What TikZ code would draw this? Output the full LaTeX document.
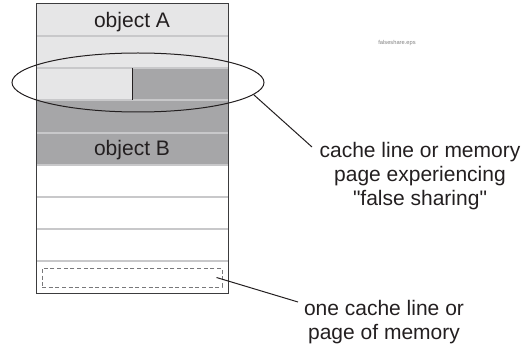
\documentclass[tikz,border=0pt]{standalone}
\usepackage{fontspec}
\setmainfont{Liberation Sans}[Ligatures=TeXOff]
\usetikzlibrary{shapes.geometric}

\tikzset{every picture/.style={line width=0.75pt}}
\tikzset{
  lightrow/.style={draw=none, fill={rgb, 255:red, 230; green, 230; blue, 231 }},
  darkrow/.style={draw=none, fill={rgb, 255:red, 166; green, 166; blue, 168 }},
  rowsep/.style={color={rgb, 255:red, 200; green, 200; blue, 202 }, line width=0.9pt},
  lbl/.style={color={rgb, 255:red, 35; green, 31; blue, 32 }, align=center, font=\fontsize{15.75}{18}\selectfont},
}

\begin{document}
\begin{tikzpicture}[x=0.75pt,y=0.75pt,yscale=-1,xscale=1]
		\useasboundingbox (0,0) rectangle (524,349);

		%object A and object B rows
		\draw  [lightrow] (36,4) rectangle (228,36) ;
		\draw  [lightrow] (36,36) rectangle (228,68) ;
		\draw  [lightrow] (36,68) rectangle (132,100) ;
		\draw  [darkrow] (132,68) rectangle (228,100) ;
		\draw  [darkrow] (36,100) rectangle (228,133) ;
		\draw  [darkrow] (36,133) rectangle (228,165) ;

		%row separators
		\draw  [rowsep] (36,36) -- (228,36) ;
		\draw  [rowsep] (36,68) -- (228,68) ;
		\draw  [rowsep] (36,100) -- (228,100) ;
		\draw  [rowsep] (36,133) -- (228,133) ;
		\draw  [rowsep] (36,165) -- (228,165) ;
		\draw  [rowsep] (36,197) -- (228,197) ;
		\draw  [rowsep] (36,229) -- (228,229) ;
		\draw  [rowsep] (36,261) -- (228,261) ;

		\draw  [color={rgb, 255:red, 35; green, 31; blue, 32 }] (132,68) -- (132,100) ;
		\draw  [color={rgb, 255:red, 60; green, 60; blue, 62 }] (36,4) rectangle (228,293) ;


		\draw (132,22) node (objA) [lbl] {object A};
		\draw (132,150) node (objB) [lbl] {object B};

		\draw (138,82.5) node (ell) [ellipse, draw, color={rgb, 255:red, 35; green, 31; blue, 32 }, minimum width=189pt, minimum height=44.25pt, inner sep=0pt] {};
		\draw (132,277.5) node (onebox) [draw, dash pattern=on 3pt off 2pt, color={rgb, 255:red, 120; green, 120; blue, 122 }, minimum width=135pt, minimum height=14.25pt, inner sep=0pt] {};


		\draw (420,176) node (falselbl) [lbl] {cache line or memory\\page experiencing\\"false sharing"};
		\draw (384,322) node (pagelbl) [lbl] {one cache line or\\page of memory};
		\draw (397,43) node (epsname) [color={rgb, 255:red, 130; green, 130; blue, 130 }, font=\fontsize{4.3}{5}\selectfont] {falseshare.eps};

		\coordinate (tipA) at (312,147);
		\coordinate (tipB) at (298,302);
		\draw [color={rgb, 255:red, 35; green, 31; blue, 32 }] (ell.-6) -- (tipA) ;
		\draw [color={rgb, 255:red, 35; green, 31; blue, 32 }] ([xshift=-4.5pt]onebox.east) -- (tipB) ;

		\end{tikzpicture}
\end{document}
